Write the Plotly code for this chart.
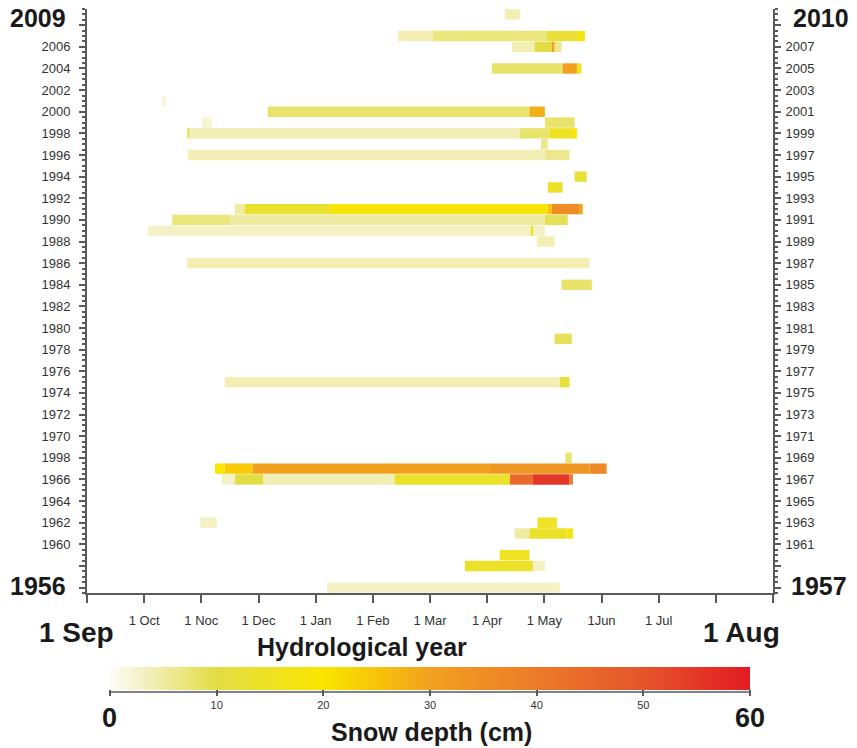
import plotly.graph_objects as go

# Snow-depth segments: hydrological year (start year), start / end (months after 1 Sep), depth (cm)
seg_year = [2009,
            2007, 2007, 2007, 2007,
            2006, 2006, 2006, 2006,
            2004, 2004, 2004,
            2001,
            2000, 2000,
            1999, 1999,
            1998, 1998, 1998, 1998, 1998,
            1997,
            1996, 1996,
            1994, 1993,
            1991, 1991, 1991, 1991, 1991, 1991,
            1990, 1990, 1990,
            1989, 1989, 1989,
            1988, 1986, 1984, 1979,
            1975, 1975,
            1968,
            1967, 1967, 1967, 1967, 1967,
            1966, 1966, 1966, 1966, 1966, 1966, 1966,
            1962, 1962,
            1961, 1961, 1961,
            1959,
            1958, 1958,
            1956]
seg_start = [7.31,
             5.44, 6.05, 8.04, 8.57,
             7.43, 7.83, 8.13, 8.18,
             7.08, 8.32, 8.57,
             1.31,
             3.16, 7.74,
             2.01, 8.01,
             1.75, 1.80, 7.57, 8.09, 8.50,
             7.94,
             1.77, 8.01,
             8.53, 8.06,
             2.59, 2.76, 4.25, 8.06, 8.13, 8.62,
             1.49, 2.50, 8.01,
             1.07, 7.76, 7.81,
             7.87, 1.75, 8.30, 8.18,
             2.41, 8.27,
             8.37,
             2.24, 2.41, 2.90, 7.05, 8.79,
             2.36, 2.59, 3.08, 5.38, 7.40, 7.80, 8.44,
             1.98, 7.88,
             7.48, 7.74, 8.39,
             7.22,
             6.61, 7.80,
             4.20]
seg_end = [7.57,
           6.05, 8.04, 8.57, 8.71,
           7.83, 8.13, 8.18, 8.30,
           8.32, 8.57, 8.65,
           1.38,
           7.74, 8.01,
           2.19, 8.53,
           1.80, 7.57, 8.09, 8.50, 8.57,
           8.06,
           8.01, 8.44,
           8.74, 8.32,
           2.76, 4.25, 8.06, 8.13, 8.62, 8.67,
           2.50, 8.01, 8.41,
           7.76, 7.81, 8.01,
           8.18, 8.79, 8.83, 8.48,
           8.27, 8.44,
           8.48,
           2.41, 2.90, 7.05, 8.79, 9.09,
           2.59, 3.08, 5.38, 7.40, 7.80, 8.44, 8.50,
           2.27, 8.22,
           7.74, 8.39, 8.50,
           7.74,
           7.80, 8.01,
           8.27]
seg_depth = [4,
             4, 7, 12, 18,
             4, 10, 30, 6,
             8, 30, 15,
             2,
             8, 28,
             2, 8,
             8, 4, 8, 15, 20,
             6,
             4, 6,
             12, 14,
             5, 13, 19, 25, 35, 30,
             7, 5, 9,
             3, 15, 3,
             4, 4, 8, 9,
             4, 12,
             8,
             20, 24, 30, 33, 36,
             3, 10, 4, 14, 45, 55, 40,
             3, 15,
             5, 14, 18,
             15,
             14, 3,
             3]

month_ticks = list(range(13))
month_labels = ["", "1 Oct", "1 Noc", "1 Dec", "1 Jan", "1 Feb", "1 Mar",
                "1 Apr", "1 May", "1Jun", "1 Jul", "", ""]
year_ticks = list(range(1956, 2009, 2))
left_labels = ["" if y in (1956, 1958, 2008) else ("1998" if y == 1968 else str(y)) for y in year_ticks]
right_labels = ["" if y in (1956, 1958, 2008) else str(y + 1) for y in year_ticks]
depth_ticks = [0, 10, 20, 30, 40, 50, 60]
depth_labels = ["", "10", "20", "30", "40", "50", ""]

colorscale = [
    [0.0, "#fefdf6"],
    [0.05, "#f4f1c6"],
    [0.1667, "#e3dd45"],
    [0.3333, "#fae600"],
    [0.42, "#f7c20a"],
    [0.5, "#f2a11f"],
    [0.6667, "#ec7b29"],
    [0.8333, "#e5552b"],
    [1.0, "#e31b23"],
]

FONT = "Liberation Sans, Arial, Helvetica, sans-serif"
AX = "#5a5a5a"

fig = go.Figure()
fig.add_trace(go.Bar(
    orientation="h",
    y=seg_year,
    base=seg_start,
    x=[e - s for s, e in zip(seg_start, seg_end)],
    width=0.96,
    marker=dict(
        color=seg_depth, colorscale=colorscale, cmin=0, cmax=60,
        line=dict(width=0),
        colorbar=dict(
            orientation="h", thickness=23, lenmode="pixels", len=640,
            x=0.5, xanchor="center", y=-0.1267, yanchor="top", ypad=0, xpad=0,
            tickvals=depth_ticks, ticktext=depth_labels, ticks="outside",
            ticklen=6, tickwidth=1.5, tickcolor=AX,
            tickfont=dict(family=FONT, size=11, color="#333"),
            outlinewidth=0,
        ),
    ),
    hoverinfo="skip",
    showlegend=False,
))
# invisible trace to carry the right-hand year axis
fig.add_trace(go.Scatter(x=[0], y=[1980], yaxis="y2", mode="markers",
                         marker=dict(opacity=0), showlegend=False, hoverinfo="skip"))

minor = dict(dtick=0.5, tick0=1956, ticks="outside", ticklen=3,
             tickwidth=1.5, tickcolor=AX, showgrid=False)

fig.update_layout(
    width=857, height=748,
    margin=dict(l=87, r=84, t=9, b=155),
    paper_bgcolor="white", plot_bgcolor="white",
    barmode="overlay",
    font=dict(family=FONT, color="#222"),
    xaxis=dict(range=[0, 12], tickvals=month_ticks, ticktext=month_labels,
               showline=True, linecolor=AX, linewidth=2, ticks="outside",
               ticklen=8, tickwidth=2, tickcolor=AX, showgrid=False, zeroline=False,
               ticklabelstandoff=6,
               tickfont=dict(size=13, color="#333")),
    yaxis=dict(range=[1955.5, 2009.5], tickvals=year_ticks, ticktext=left_labels,
               showline=True, linecolor=AX, linewidth=2, ticks="outside",
               ticklen=6, tickwidth=2, tickcolor=AX, showgrid=False, zeroline=False,
               ticklabelstandoff=6,
               tickfont=dict(size=13, color="#333"), minor=minor),
    yaxis2=dict(range=[1955.5, 2009.5], overlaying="y", side="right", anchor="x",
                tickvals=year_ticks, ticktext=right_labels,
                showline=True, linecolor=AX, linewidth=2, ticks="outside",
                ticklen=6, tickwidth=2, tickcolor=AX, showgrid=False, zeroline=False,
                ticklabelstandoff=2,
                tickfont=dict(size=13, color="#333"), minor=minor),
)

# axis line under the colour bar
fig.add_shape(type="line", xref="paper", yref="paper", x0=0.0335, x1=0.9665,
              y0=-0.1695, y1=-0.1695, line=dict(color=AX, width=1.5))

def ann(text, x, y, size):
    fig.add_annotation(text="<b>%s</b>" % text, x=x, y=y, xref="paper", yref="paper",
                       xanchor="center", yanchor="middle", showarrow=False,
                       font=dict(family=FONT, size=size, color="#1a1a1a"))

ann("2009", -0.0714, 0.9846, 25)
ann("1956", -0.0714, 0.012, 25)
ann("2010", 1.070, 0.9846, 25)
ann("1957", 1.067, 0.012, 25)
ann("1 Sep", -0.0146, -0.0668, 28)
ann("1 Aug", 0.9534, -0.0668, 28)
ann("Hydrological year", 0.4009, -0.0925, 25)
ann("0", 0.0335, -0.214, 27)
ann("60", 0.9665, -0.214, 27)
ann("Snow depth (cm)", 0.5029, -0.238, 25)

fig.write_html("out.html", config={"displayModeBar": False},
               post_script="document.body.style.margin='0px';")
